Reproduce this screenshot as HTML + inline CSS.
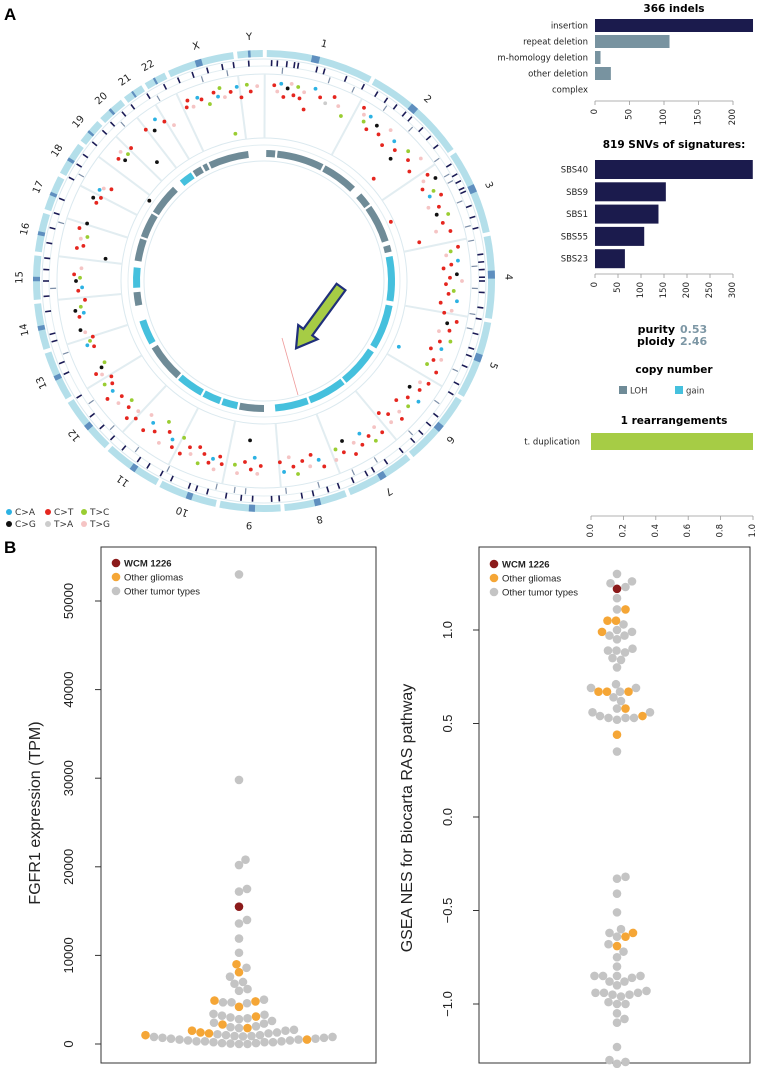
<!DOCTYPE html>
<html><head><meta charset="utf-8"><style>
html,body{margin:0;padding:0;background:#fff;}
svg{display:block;}
.dv{font-family:"DejaVu Sans","Liberation Sans",sans-serif;}
.ls{font-family:"Liberation Sans",sans-serif;}
</style></head><body>
<svg id="fig" width="759" height="1068" viewBox="0 0 759 1068" xmlns="http://www.w3.org/2000/svg">
<text class="ls" x="4" y="20" font-size="17" font-weight="bold">A</text>
<text class="ls" x="4" y="553" font-size="17" font-weight="bold">B</text>
<g id="circos" transform="translate(264,281)"></g>
<g id="circLegend"></g>
<g id="indels"></g>
<g id="snv"></g>
<g id="info"></g>
<g id="rearr"></g>
<g id="fgfr"></g>
<g id="gsea"></g>
</svg>
<script>
// ---------- data ----------
const chromNames=["1","2","3","4","5","6","7","8","9","10","11","12","13","14","15","16","17","18","19","20","21","22","X","Y"];
const chromLengths=[249,243,198,191,181,171,159,146,141,136,135,134,115,107,102,90,81,78,59,63,48,51,155,59];
const cnSegments=[[1,5,0],[6,27,0],[28,44,0],[48,54,0],[55,72,0],[74,77,0],[79,99,1],[101,121,1],[123,141,1],[142,159,1],[160,175,1],[180,191,0],[192,199,1],[200,208,1],[209,221,1],[222,239,0],[241,252,1],[259,265,0],[267,276,1],[279,289,0],[290,301,0],[302,316,0],[320,326,1],[327,331,0],[332,334,0],[335,353,0]];
const mutAngles=[3,4,5,6,7,8,9,10,11,12,13,15,17,19,21,23,25,30,31,32,33,34,36,38,40,41,43,45,46,48,50,52,53,47,57,58,59,60,62,63,64,66,67,69,70,72,74,75,76,65,80,81,82,84,85,86,88,89,90,91,93,94,96,97,99,100,102,103,105,106,108,109,111,112,114,115,117,118,116,122,123,125,126,128,129,131,132,134,135,137,138,139,142,143,145,146,148,149,151,152,154,155,157,158,162,163,165,166,168,170,171,172,174,175,181,182,183,184,185,186,188,189,193,194,195,196,197,199,200,201,203,204,206,207,209,210,212,213,214,216,218,219,220,223,224,225,227,228,230,231,233,234,236,237,238,240,241,242,243,249,250,251,252,254,255,259,260,261,262,264,267,268,270,271,272,274,278,280,281,283,284,286,288,295,296,297,299,300,301,305,310,311,312,313,315,318,322,324,326,328,330,336,337,338,340,341,343,345,346,347,348,350,352,353,355,356,358,349];
const mutRadii=[196,190,198,185,194,199,188,197,186,193,176,199,192,188,197,190,182,200,194,188,196,183,192,186,197,180,191,185,176,194,188,199,182,150,195,188,200,183,192,186,197,180,190,185,196,188,179,193,160,140,197,189,184,195,188,180,193,186,198,182,190,185,194,178,190,183,197,188,192,182,196,186,190,180,194,187,183,195,150,194,186,190,180,196,185,191,178,188,195,182,190,175,192,183,195,187,180,191,185,196,178,189,183,193,195,187,180,191,184,196,188,178,192,182,185,193,177,189,160,182,194,186,188,181,195,185,190,183,194,178,188,182,192,176,190,183,178,193,170,186,180,192,175,188,181,194,185,178,190,183,196,187,183,190,180,187,192,184,179,182,188,184,180,186,190,188,183,191,185,180,186,182,188,184,190,183,160,190,184,188,182,192,186,185,190,183,188,185,178,140,190,184,193,186,188,160,192,186,195,188,180,190,196,188,195,192,185,195,190,198,188,192,196,185,197,190,195,150];
const mutTypes=[1,5,0,1,3,5,1,2,1,5,1,0,1,4,1,5,2,1,5,2,0,1,3,1,5,1,0,1,3,2,1,5,1,1,1,5,3,1,2,0,1,5,1,3,2,1,5,1,1,1,1,2,5,0,1,1,3,1,5,1,2,1,0,1,5,1,1,3,1,5,2,1,0,1,5,1,2,1,0,1,5,1,3,0,1,2,1,5,1,1,5,1,1,5,2,1,0,1,5,1,3,1,2,5,1,0,1,5,1,2,1,5,0,1,1,5,0,1,3,1,5,2,1,1,5,0,1,1,2,1,5,1,1,2,1,0,1,5,2,1,0,1,5,1,5,1,1,2,5,1,1,0,1,2,1,5,1,3,2,1,0,2,1,5,3,1,0,3,2,1,1,0,3,2,1,5,3,1,1,5,2,1,3,1,3,1,0,5,1,3,1,3,5,2,1,3,1,3,0,1,5,1,1,5,0,1,2,1,0,2,5,1,0,1,2,1,5,2];
const navyTicks=[2,3.5,6,8,9,14,16,22,27,31,34,37,40,42,46,49,52,58,61,63,65,66,70,73,76,83,85,87,89,90,93,97,100,104,108,110,113,118,121,128,131,134,137,141,146,150,152,156,160,163,167,170,176,178,183,186,190,195,198,200,205,208,212,215,220,224,228,232,238,245,248,254,256,262,266,270,273,276,280,284,288,292,298,302,305,309,313,316,320,323,328,333,337,341,345,349,352,356];
const greyTicks=[5,18,25,35,44,55,60,62,68,75,79,86,92,99,103,115,125,136,148,155,165,174,185,188,193,207,217,226,235,250,268,286,300,318,330,343,350];

const indelCats=["insertion","repeat deletion","m-homology deletion","other deletion","complex"];
const indelVals=[229,108,8,23,0];
const indelTicks=[0,50,100,150,200];
const snvCats=["SBS40","SBS9","SBS1","SBS55","SBS23"];
const snvVals=[343,154,138,107,65];
const snvTicks=[0,50,100,150,200,250,300];
const rearrCats=["t. duplication"];
const rearrVals=[1];
const rearrTicks=[0,0.2,0.4,0.6,0.8,1.0];

const fgfrGray=[53000,29800,20800,20200,17500,17200,14000,13600,11900,10300,8600,7600,7000,6800,6200,6000,5000,4700,4600,4700,3400,3200,3300,3000,2900,2800,2600,2400,2300,2000,1800,1900,1600,1500,1300,1200,1100,1000,1000,900,850,800,700,600,500,400,300,200,100,50,0,0,100,200,300,400,500,600,700,800,900,300,200];
const fgfrGlioma=[9000,8100,4900,4800,4200,3100,2200,1800,1500,1300,1200,1000,500];
const fgfrSample=[15500];
const fgfrTicks=[0,10000,20000,30000,40000,50000];

const gseaGray=[1.3,1.26,1.25,1.23,1.17,1.11,1.03,1.0,0.99,0.97,0.97,0.95,0.9,0.89,0.89,0.88,0.85,0.84,0.8,0.71,0.69,0.69,0.67,0.64,0.62,0.58,0.56,0.56,0.54,0.53,0.53,0.52,0.53,0.35,-0.33,-0.32,-0.41,-0.51,-0.6,-0.62,-0.64,-0.68,-0.72,-0.75,-0.8,-0.85,-0.85,-0.85,-0.85,-0.86,-0.88,-0.88,-0.9,-0.93,-0.94,-0.94,-0.95,-0.95,-0.96,-0.94,-0.99,-1.0,-1.0,-1.05,-1.1,-1.08,-1.23,-1.3,-1.32,-1.31];
const gseaGlioma=[1.11,1.05,1.05,0.99,0.67,0.67,0.67,0.58,0.54,0.44,-0.62,-0.64,-0.69];
const gseaSample=[1.22];
const gseaTicks=[-1,-0.5,0,0.5,1];
const gseaTickLabels=["\u22121.0","\u22120.5","0.0","0.5","1.0"];

// ---------- helpers ----------
const NS="http://www.w3.org/2000/svg";
function mk(parent,tag,attrs,text){const e=document.createElementNS(NS,tag);for(const k in attrs)e.setAttribute(k,attrs[k]);if(text!==undefined)e.textContent=text;parent.appendChild(e);return e;}
function pol(a,r){const t=(a-90)*Math.PI/180;return [r*Math.cos(t),r*Math.sin(t)];}
function arc(a0,a1,r0,r1){const [x0,y0]=pol(a0,r1),[x1,y1]=pol(a1,r1),[x2,y2]=pol(a1,r0),[x3,y3]=pol(a0,r0);const lg=(a1-a0)>180?1:0;
return `M${x0},${y0}A${r1},${r1} 0 ${lg} 1 ${x1},${y1}L${x2},${y2}A${r0},${r0} 0 ${lg} 0 ${x3},${y3}Z`;}

// ---------- circos ----------
const C=document.getElementById('circos');
const total=chromLengths.reduce((a,b)=>a+b,0);
const gap=1,start=0.7,degPer=(360-gap*chromLengths.length)/total;
let cum=0;const chromStart=[],chromEnd=[];
chromLengths.forEach((L,i)=>{const s=start+cum*degPer+i*gap;chromStart.push(s);chromEnd.push(s+L*degPer);cum+=L;});
[[222,'#dbe9ef'],[215,'#e3eef2'],[207,'#dbe9ef'],[143,'#dbe9ef'],[136,'#e3eef2'],[120,'#dbe9ef']].forEach(([r,c])=>{
 const e=mk(C,'circle',{cx:0,cy:0,r:r,fill:'none',stroke:c,'stroke-width':1});
 
 
});
chromLengths.forEach((L,i)=>{
 const s=chromStart[i],e=chromEnd[i];
 const p=mk(C,'path',{d:arc(s,e,224,231),fill:'#b4dfea'});
 
 
 const m=s+(e-s)*0.42;
 const b=mk(C,'path',{d:arc(m,m+Math.min(2,(e-s)*0.1),224,231),fill:'#5f8fbf'});
 
 
 [s-gap/2].forEach(a=>{const [x0,y0]=pol(a,143),[x1,y1]=pol(a,207);
  const l=mk(C,'line',{x1:x0,y1:y0,x2:x1,y2:y1,stroke:'#e2edf1','stroke-width':2});
  
  });
 const la=(s+e)/2,[lx,ly]=pol(la,244);
 const t=mk(C,'text',{x:lx,y:ly,'font-size':10,'text-anchor':'middle','dominant-baseline':'central',class:'dv',fill:'#222',transform:`rotate(${la>180?la-360:la},${lx},${ly})`},chromNames[i]);
 
 
});
navyTicks.forEach(a=>{const [x0,y0]=pol(a,215),[x1,y1]=pol(a,221);
 const l=mk(C,'line',{x1:x0,y1:y0,x2:x1,y2:y1,stroke:'#1b1b55','stroke-width':1.6});
 
 });
greyTicks.forEach(a=>{const [x0,y0]=pol(a,208),[x1,y1]=pol(a,214);
 const l=mk(C,'line',{x1:x0,y1:y0,x2:x1,y2:y1,stroke:'#7d8fa8','stroke-width':1.2});
 
 });
const mutColors=['#2cb2e3','#e5261f','#9acd32','#111111','#cccccc','#f5c4c4'];
mutAngles.forEach((a,i)=>{const [x,y]=pol(a,mutRadii[i]);
 const c=mk(C,'circle',{cx:x,cy:y,r:1.9,fill:mutColors[mutTypes[i]]});
 
 });
cnSegments.forEach(([a0,a1,t])=>{
 const p=mk(C,'path',{d:arc(a0,a1,124,131),fill:t?'#45c0dd':'#6f8b97'});
 
 });
{const l=mk(C,'line',{x1:18,y1:57,x2:34,y2:114,stroke:'#ef9a9a','stroke-width':0.8});
 
 }
{const ang=Math.atan2(60,-44)*180/Math.PI;
 const g=mk(C,'g',{transform:`translate(77,6) rotate(${ang})`});
 
 
 mk(g,'polygon',{points:'0,-5.5 56,-5.5 56,-12 76,0 56,12 56,5.5 0,5.5',fill:'#a6cc45',stroke:'#1f2f7a','stroke-width':2.2,'stroke-linejoin':'miter'});}

const CL=document.getElementById('circLegend');
[['C>A',0,9,512],['C>T',1,48,512],['T>C',2,84,512],['C>G',3,9,524],['T>A',4,48,524],['T>G',5,84,524]].forEach(([t,c,x,y])=>{
 const d=mk(CL,'circle',{cx:x,cy:y,r:3,fill:mutColors[c]});
 
 
 const tx=mk(CL,'text',{x:x+6,y:y+3,'font-size':9,class:'dv',fill:'#333'},t);
 
 
});

// ---------- horizontal bar charts ----------
function hbar(gid,cats,vals,colors,ticks,x0,x1,vmax,rowTop,rowH,barH,axisY,title,titleY,tickFmt,catX){
 const G=document.getElementById(gid);
 const sx=v=>x0+(x1-x0)*v/vmax;
 const tt=mk(G,'text',{x:674,y:titleY,'font-size':10.5,'font-weight':'bold','text-anchor':'middle',class:'dv'},title);
 
 
 cats.forEach((c,i)=>{
  const y=rowTop+i*rowH;
  const l=mk(G,'text',{x:catX,y:y+barH/2+3,'font-size':8.5,'text-anchor':'end',class:'dv',fill:'#222'},c);
  
  
  if(vals[i]>0){const r=mk(G,'rect',{x:x0,y:y,width:sx(vals[i])-x0,height:barH,fill:colors[i]});
   
   }
 });
 const ax=mk(G,'line',{x1:sx(ticks[0]),y1:axisY,x2:sx(ticks[ticks.length-1]),y2:axisY,stroke:'#999','stroke-width':0.8});
 
 
 ticks.forEach(t=>{const x=sx(t);
  const tk=mk(G,'line',{x1:x,y1:axisY,x2:x,y2:axisY+4,stroke:'#999','stroke-width':0.8});
  
  
  const lb=mk(G,'text',{x:x,y:axisY+8,'font-size':8.5,class:'dv','text-anchor':'end','dominant-baseline':'central',fill:'#222',transform:`rotate(-90,${x},${axisY+8})`},tickFmt(t));
  
  });
}
hbar('indels',indelCats,indelVals,['#1b1b4d','#7893a0','#7893a0','#7893a0','#7893a0'],indelTicks,595,733,200,19,16,13,101,'366 indels',12,t=>String(t),588);
hbar('snv',snvCats,snvVals,snvCats.map(()=>'#1b1b4d'),snvTicks,595,733,300,160,22.3,19,274,'819 SNVs of signatures:',148,t=>String(t),588);
hbar('rearr',rearrCats,rearrVals,['#a6cc45'],rearrTicks,591,753,1,433,20,17,516,'1 rearrangements',424,t=>t.toFixed(1),580);

const I=document.getElementById('info');
[['purity','0.53',333],['ploidy','2.46',345]].forEach(([k,v,y])=>{
 const a=mk(I,'text',{x:675,y:y,'font-size':11,'font-weight':'bold','text-anchor':'end',class:'dv'},k);
 
 
 const b=mk(I,'text',{x:680,y:y,'font-size':11,'font-weight':'bold',class:'dv',fill:'#7d97a5'},v);
 
 });
{const t=mk(I,'text',{x:674,y:373,'font-size':10.5,'font-weight':'bold','text-anchor':'middle',class:'dv'},'copy number');
 
 }
[['LOH','#6f8b97',619],['gain','#45c0dd',675]].forEach(([t,c,x])=>{
 const r=mk(I,'rect',{x:x,y:386,width:8,height:8,fill:c});
 
 
 const tx=mk(I,'text',{x:x+11,y:393.5,'font-size':8.5,class:'dv',fill:'#333'},t);
 
 });

// ---------- beeswarms ----------
function swarm(points,cx,yfun,r){
 const placed=[];
 const order=points.map((p,i)=>i).sort((a,b)=>points[a][0]-points[b][0]);
 order.forEach(i=>{const y=yfun(points[i][0]);let best=null;
  for(let d=0;d<200;d+=0.5){for(const s of (d===0?[0]:[d,-d])){const x=cx+s;
   if(placed.every(p=>(p.x-x)**2+(p.y-y)**2>=(2*r)**2*0.98)){best=x;break;}}
   if(best!==null)break;}
  placed.push({x:best,y:y,cat:points[i][1]});});
 return placed;
}
function beePanel(gid,box,cx,yfun,gray,gl,samp,ticks,tickLabels,tickX,yTitle,titleX,titleY,legX,legY){
 const G=document.getElementById(gid);
 const fr=mk(G,'rect',{x:box[0],y:box[1],width:box[2]-box[0],height:box[3]-box[1],fill:'none',stroke:'#333','stroke-width':1});
 
 
 ticks.forEach((t,i)=>{const y=yfun(t);
  const tk=mk(G,'line',{x1:box[0]-6,y1:y,x2:box[0],y2:y,stroke:'#333','stroke-width':1});
  
  
  const lb=mk(G,'text',{x:tickX,y:y,'font-size':13,class:'ls','text-anchor':'middle',fill:'#222',transform:`rotate(-90,${tickX},${y})`},tickLabels[i]);
  
  });
 const ttl=mk(G,'text',{x:titleX,y:titleY,'font-size':16,class:'ls','text-anchor':'middle',fill:'#222',transform:`rotate(-90,${titleX},${titleY})`},yTitle);
 
 
 const pts=gray.map(v=>[v,0]).concat(gl.map(v=>[v,1]),samp.map(v=>[v,2]));
 const cols=['#c4c4c4','#f5a636','#8b1a1a'];
 const placed=swarm(pts,cx,yfun,4.2);
 [0,1,2].forEach(cat=>placed.filter(p=>p.cat===cat).forEach(p=>{
  const c=mk(G,'circle',{cx:p.x,cy:p.y,r:4.3,fill:cols[cat]});
  
  }));
 [['WCM 1226',2,true],['Other gliomas',1,false],['Other tumor types',0,false]].forEach(([t,c,b],i)=>{
  const y=legY+i*14;
  const d=mk(G,'circle',{cx:legX,cy:y,r:4.3,fill:cols[c]});
  
  
  const tx=mk(G,'text',{x:legX+8,y:y+3.5,'font-size':9.5,class:'ls','font-weight':b?'bold':'normal',fill:'#222'},t);
  
  });
}
beePanel('fgfr',[101,547,376,1063],239,v=>1044-v*(1044-601)/50000,fgfrGray,fgfrGlioma,fgfrSample,fgfrTicks,fgfrTicks.map(String),73,'FGFR1 expression (TPM)',40,813,116,563);
beePanel('gsea',[479,547,750,1063],617,v=>817-v*187,gseaGray,gseaGlioma,gseaSample,gseaTicks,gseaTickLabels,452,'GSEA NES for Biocarta RAS pathway',412,818,494,564);
</script>
</body></html>
